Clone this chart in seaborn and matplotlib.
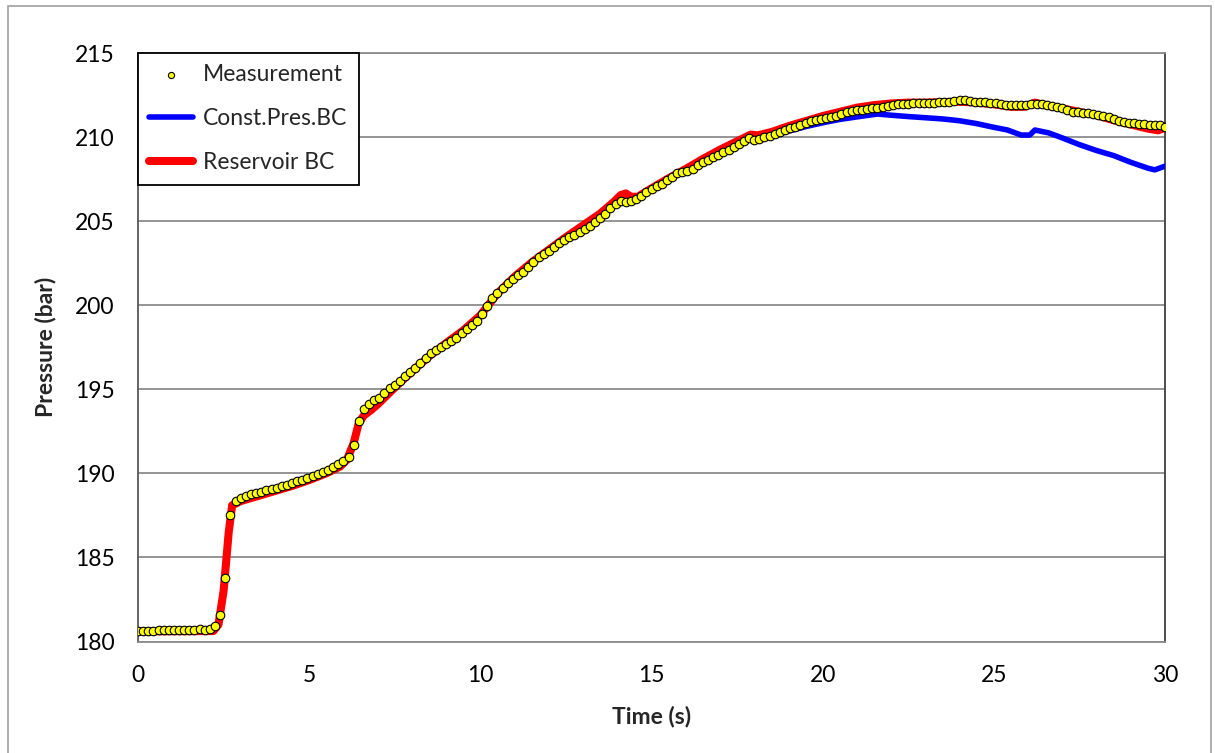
import matplotlib
matplotlib.use("Agg")
import matplotlib.pyplot as plt
from matplotlib.patches import Rectangle
import seaborn as sns
import numpy as np

# ---------------- data ----------------
# measurement sampled every 0.15 s from 0 to 30 s
meas_dt = 0.15
meas_p = [
    180.62, 180.63, 180.62, 180.64, 180.68, 180.67, 180.69, 180.68, 180.70, 180.69,
    180.71, 180.70, 180.72, 180.71, 180.74, 180.90, 181.60, 183.80, 187.50, 188.35,
    188.52, 188.65, 188.76, 188.85, 188.90, 189.00, 189.05, 189.15, 189.25, 189.33,
    189.43, 189.52, 189.62, 189.72, 189.83, 189.95, 190.07, 190.20, 190.38, 190.55,
    190.75, 191.00, 191.70, 193.10, 193.80, 194.15, 194.38, 194.50, 194.80, 195.05,
    195.25, 195.50, 195.78, 196.02, 196.28, 196.55, 196.85, 197.13, 197.33, 197.50,
    197.70, 197.88, 198.06, 198.32, 198.60, 198.82, 199.08, 199.45, 199.95, 200.45,
    200.72, 201.05, 201.30, 201.58, 201.78, 201.97, 202.28, 202.58, 202.85, 203.03,
    203.22, 203.45, 203.68, 203.90, 204.05, 204.20, 204.36, 204.52, 204.70, 204.93,
    205.18, 205.45, 205.78, 206.03, 206.22, 206.14, 206.22, 206.34, 206.52, 206.73,
    206.93, 207.08, 207.23, 207.42, 207.65, 207.85, 207.93, 208.00, 208.12, 208.32,
    208.50, 208.65, 208.82, 208.95, 209.10, 209.25, 209.42, 209.60, 209.78, 209.92,
    209.82, 209.86, 209.98, 210.08, 210.20, 210.33, 210.44, 210.53, 210.62, 210.71,
    210.82, 210.93, 211.03, 211.08, 211.14, 211.20, 211.26, 211.38, 211.50, 211.56,
    211.60, 211.62, 211.65, 211.70, 211.74, 211.79, 211.84, 211.90, 211.95, 211.97,
    211.98, 212.00, 212.00, 212.02, 212.03, 212.04, 212.06, 212.08, 212.10, 212.12,
    212.18, 212.22, 212.14, 212.10, 212.08, 212.06, 212.04, 212.00, 211.95, 211.91,
    211.90, 211.88, 211.90, 211.93, 211.96, 211.97, 211.95, 211.90, 211.86, 211.80,
    211.70, 211.60, 211.52, 211.48, 211.45, 211.42, 211.38, 211.30, 211.24, 211.18,
    211.08, 210.98, 210.91, 210.86, 210.82, 210.78, 210.75, 210.72, 210.71, 210.70,
    210.60,
]
meas_t = np.round(np.arange(len(meas_p)) * meas_dt, 2)

res_t = [0, 2.2, 2.35, 2.5, 2.65, 2.75, 3.0, 3.5, 4.0, 4.5, 5.0, 5.5, 5.9, 6.1, 6.3,
         6.45, 6.6, 6.8, 7.0, 7.25, 7.5, 8.0, 8.5, 9.0, 9.5, 10.0, 10.5, 11.0, 11.5,
         12.0, 12.5, 13.0, 13.5, 13.9, 14.1, 14.25, 14.4, 14.6, 15.0, 15.5, 16.0,
         16.5, 17.0, 17.5, 17.9, 18.1, 18.5, 19.0, 19.5, 20.0, 20.5, 21.0, 21.5,
         22.0, 22.5, 23.0, 23.5, 24.0, 24.5, 25.0, 25.5, 25.9, 26.2, 26.5, 27.0,
         27.5, 28.0, 28.5, 29.0, 29.5, 29.8, 30.0]
res_p = [180.6, 180.62, 181.0, 183.0, 186.5, 188.1, 188.35, 188.65, 188.95, 189.25,
         189.6, 190.0, 190.4, 190.8, 191.8, 193.0, 193.45, 193.75, 194.1, 194.6,
         195.1, 196.05, 196.95, 197.75, 198.5, 199.4, 200.7, 201.7, 202.55, 203.3,
         204.05, 204.75, 205.45, 206.15, 206.55, 206.65, 206.45, 206.45, 206.95,
         207.55, 208.1, 208.7, 209.25, 209.75, 210.15, 210.1, 210.3, 210.65, 210.95,
         211.25, 211.5, 211.75, 211.9, 212.0, 212.05, 212.05, 212.08, 212.1, 212.05,
         211.95, 211.8, 211.8, 212.05, 211.9, 211.7, 211.5, 211.3, 211.0, 210.75,
         210.5, 210.4, 210.55]

cp_t = [0, 2.2, 2.35, 2.5, 2.65, 2.75, 3.0, 3.5, 4.0, 4.5, 5.0, 5.5, 5.9, 6.1, 6.3,
        6.45, 6.6, 6.8, 7.0, 7.25, 7.5, 8.0, 8.5, 9.0, 9.5, 10.0, 10.5, 11.0, 11.5,
        12.0, 12.5, 13.0, 13.5, 13.9, 14.1, 14.3, 14.6, 15.0, 15.5, 16.0, 16.5,
        17.0, 17.5, 18.0, 18.5, 19.0, 19.5, 20.0, 20.5, 21.0, 21.6, 22.0, 22.5,
        23.0, 23.5, 24.0, 24.5, 25.0, 25.4, 25.8, 26.05, 26.2, 26.6, 27.0, 27.5,
        28.0, 28.5, 29.0, 29.5, 29.7, 30.0]
cp_p = [180.6, 180.62, 181.0, 183.0, 186.5, 188.1, 188.35, 188.65, 188.95, 189.25,
        189.6, 190.0, 190.4, 190.8, 191.8, 193.0, 193.45, 193.75, 194.1, 194.6,
        195.1, 196.05, 196.95, 197.75, 198.5, 199.4, 200.7, 201.7, 202.55, 203.3,
        204.05, 204.75, 205.45, 206.1, 206.3, 206.4, 206.45, 206.85, 207.45, 208.05,
        208.6, 209.15, 209.6, 209.9, 210.15, 210.35, 210.62, 210.85, 211.05, 211.2,
        211.37, 211.3, 211.22, 211.15, 211.08, 210.97, 210.8, 210.58, 210.42, 210.12,
        210.12, 210.42, 210.25, 209.95, 209.55, 209.2, 208.9, 208.5, 208.15, 208.05,
        208.27]

x_ticks = [0, 5, 10, 15, 20, 25, 30]
y_ticks = [180, 185, 190, 195, 200, 205, 210, 215]

# ---------------- style ----------------
sns.set_theme(style="white")
plt.rcParams["font.family"] = ["Lato", "DejaVu Sans"]

fig = plt.figure(figsize=(12.15, 7.53), dpi=100)
ax = fig.add_axes([138 / 1215, 1 - 641.5 / 753, (1165 - 138) / 1215, (641.5 - 53) / 753])

sns.lineplot(x=cp_t, y=cp_p, ax=ax, color="#0000ff", linewidth=4.0,
             estimator=None, sort=False, label="Const.Pres.BC", zorder=3)
sns.lineplot(x=res_t, y=res_p, ax=ax, color="#ff0000", linewidth=5.8,
             estimator=None, sort=False, label="Reservoir BC", zorder=4)
sns.scatterplot(x=meas_t, y=meas_p, ax=ax, color="#ffff00", edgecolor="black",
                linewidth=0.8, s=38, label="Measurement", zorder=5)

ax.set_xlim(0, 30)
ax.set_ylim(180, 215)
ax.set_xticks(x_ticks)
ax.set_yticks(y_ticks)
ax.yaxis.grid(True, color="#8c8c8c", linewidth=1.3)
ax.xaxis.grid(False)
ax.set_axisbelow(True)

for side, col in [("left", "#595959"), ("right", "#404040"),
                  ("top", "#8c8c8c"), ("bottom", "#8c8c8c")]:
    ax.spines[side].set_visible(True)
    ax.spines[side].set_color(col)
    ax.spines[side].set_linewidth(1.3)

ax.tick_params(axis="both", which="major", direction="out", length=6,
               width=1.2, color="#8c8c8c", labelsize=16.5, labelcolor="black")
ax.tick_params(axis="y", pad=11)
ax.tick_params(axis="x", pad=11)

ax.set_xlabel("Time (s)", fontsize=16.5, fontweight="bold", labelpad=14)
ax.set_ylabel("Pressure (bar)", fontsize=16.5, fontweight="bold", labelpad=13)

# legend in Excel order
handles, labels = ax.get_legend_handles_labels()
order = [labels.index(n) for n in ["Measurement", "Const.Pres.BC", "Reservoir BC"]]
leg = ax.legend([handles[i] for i in order], [labels[i] for i in order],
                loc="upper left", bbox_to_anchor=(0, 1), borderaxespad=0,
                fontsize=16.5, frameon=True, fancybox=False, framealpha=1,
                edgecolor="black", handlelength=1.9, handletextpad=0.45,
                labelspacing=1.0, borderpad=0.5, markerscale=0.72)
leg.get_frame().set_linewidth(1.3)
leg.set_zorder(10)

# outer chart border
fig.add_artist(Rectangle((7.5 / 1215, -0.05), (1210.5 - 7.5) / 1215, 1.05 - 6.5 / 753,
                         transform=fig.transFigure, fill=False,
                         edgecolor="#a0a0a0", linewidth=1.2))

plt.savefig("out.png", dpi=100, facecolor="white")
